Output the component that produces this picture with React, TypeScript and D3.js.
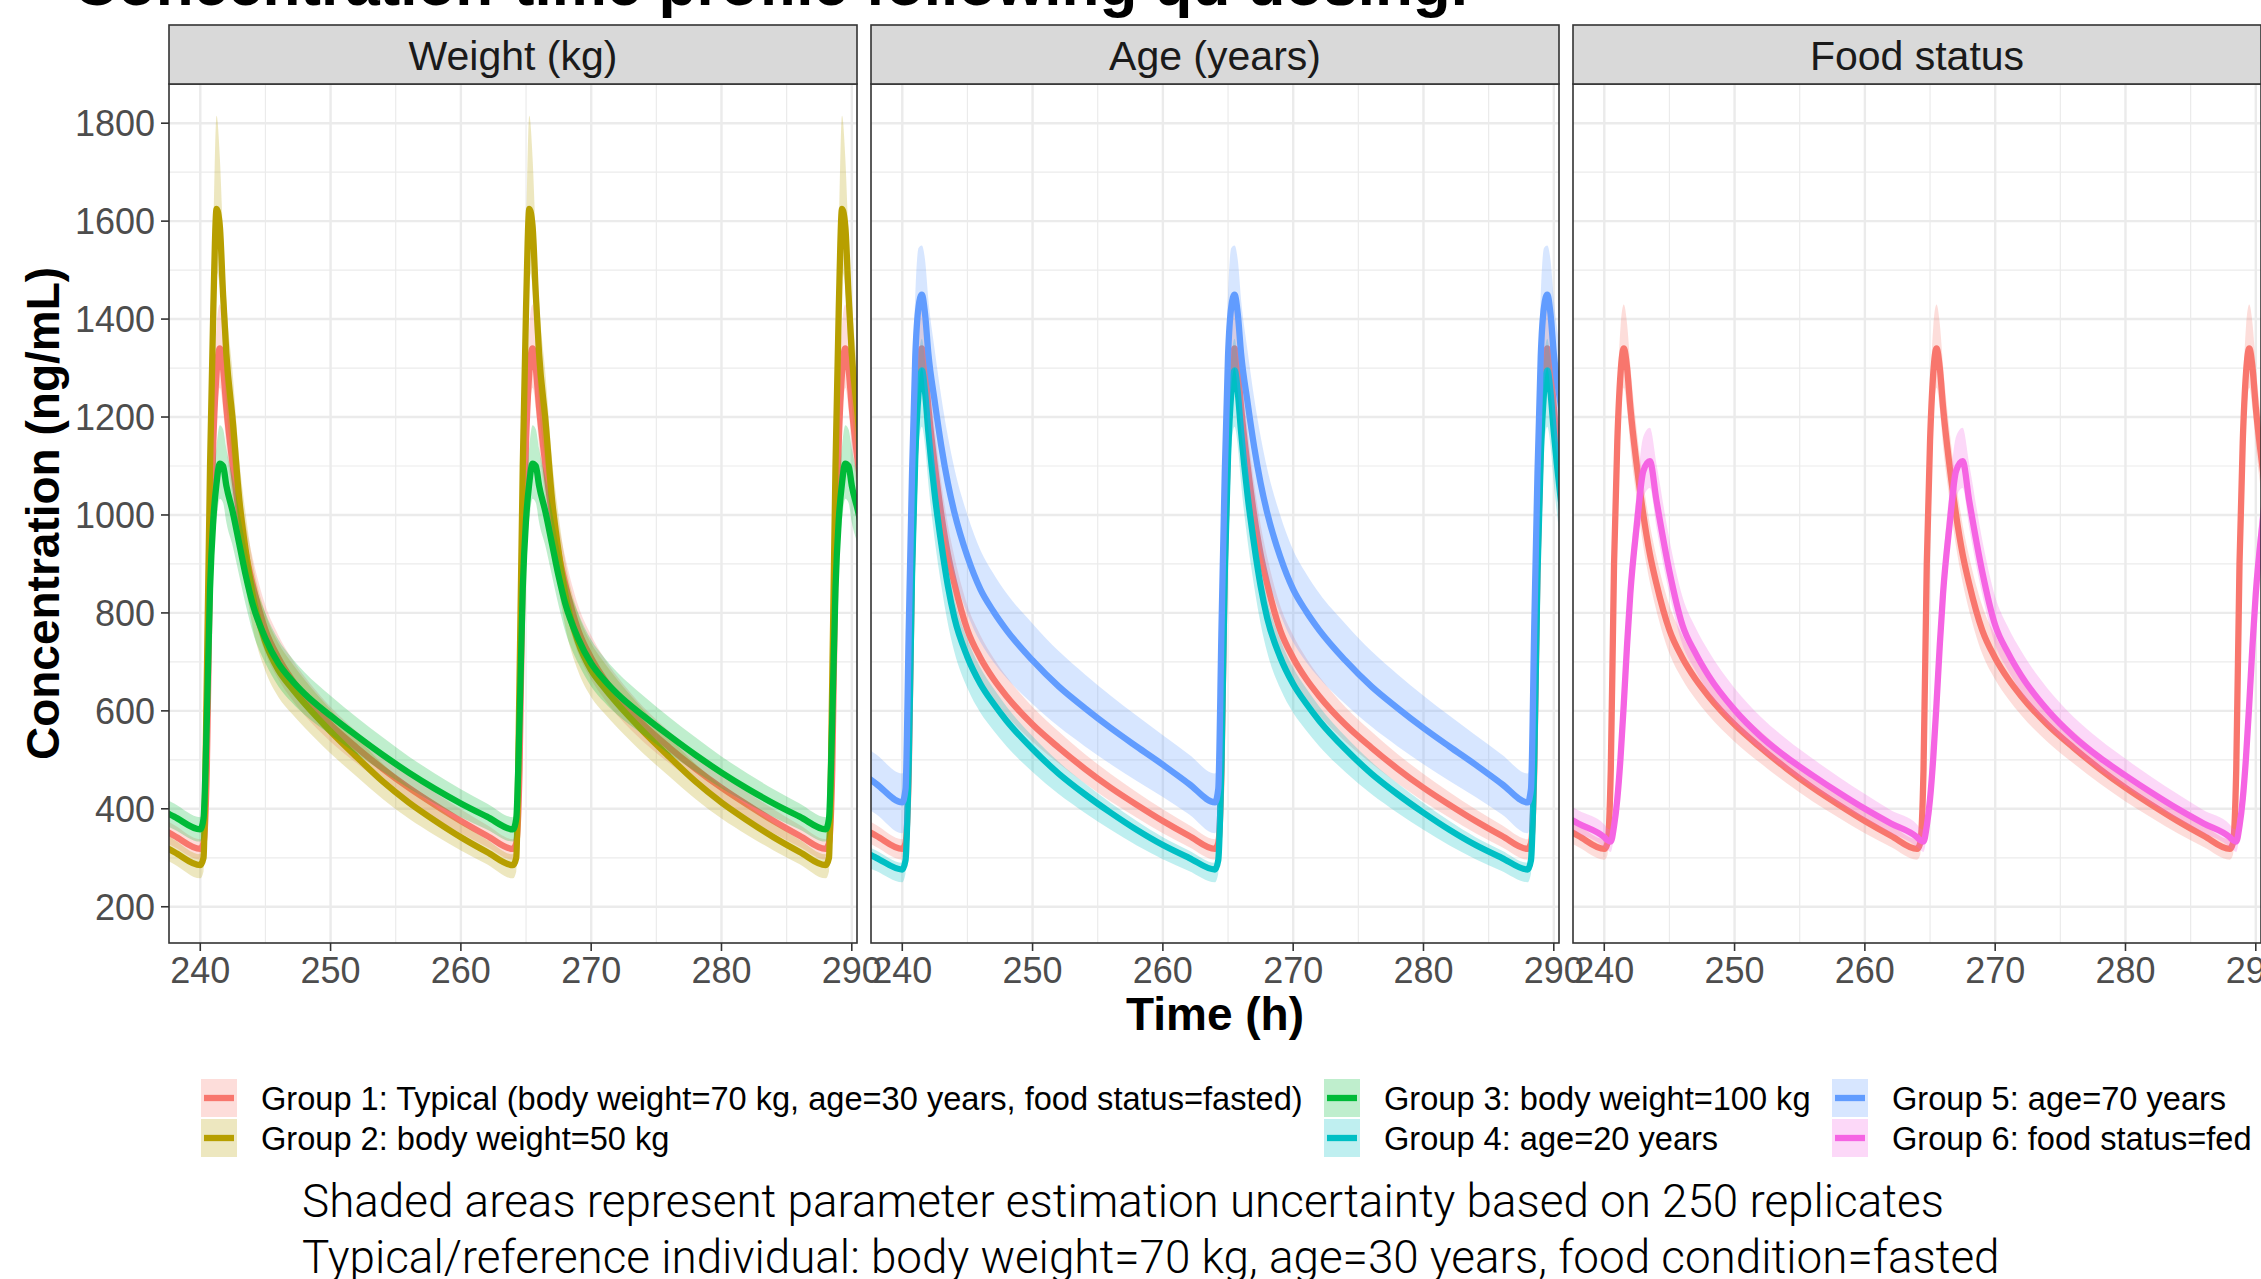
import React from 'react';
import * as d3 from 'd3';

// ---------- data ----------
const DOSE_TIMES = [216, 240, 264, 288];
const OFFSETS = [0, 0.25, 0.5, 0.75, 1, 1.25, 1.5, 1.75, 2, 2.5, 3, 3.5, 4, 5, 6, 7, 8, 10, 12, 14, 16, 18, 20, 22];

const G1_MEAN = [318, 330, 480, 900, 1150, 1290, 1340, 1300, 1220, 1100, 1000, 920, 860, 765, 708, 665, 630, 572, 525, 482, 443, 408, 375, 345];
const G1_LO = [296, 306, 445, 835, 1070, 1200, 1260, 1215, 1140, 1030, 935, 862, 805, 717, 664, 624, 591, 537, 493, 452, 415, 382, 350, 322];
const G1_HI = [338, 352, 515, 965, 1235, 1385, 1430, 1390, 1305, 1172, 1066, 980, 915, 815, 754, 708, 670, 608, 558, 512, 471, 434, 399, 367];

const G2_MEAN = [285, 300, 660, 1100, 1420, 1625, 1590, 1450, 1330, 1190, 1030, 925, 840, 740, 683, 647, 615, 558, 506, 456, 413, 376, 342, 312];
const G2_LO = [258, 272, 605, 1010, 1305, 1495, 1465, 1335, 1225, 1095, 948, 851, 773, 681, 628, 595, 566, 513, 466, 420, 380, 346, 315, 287];
const G2_HI = [307, 323, 715, 1190, 1560, 1815, 1730, 1565, 1435, 1285, 1112, 999, 907, 799, 738, 699, 664, 603, 546, 492, 446, 406, 370, 337];

const G3_MEAN = [358, 380, 580, 850, 990, 1065, 1105, 1100, 1060, 1005, 940, 875, 820, 748, 697, 663, 635, 590, 549, 510, 474, 441, 411, 384];
const G3_LO = [333, 353, 540, 790, 920, 990, 1033, 1025, 985, 935, 875, 815, 763, 697, 650, 618, 592, 551, 512, 476, 442, 411, 383, 358];
const G3_HI = [383, 407, 620, 910, 1060, 1140, 1183, 1175, 1135, 1075, 1006, 936, 877, 800, 745, 709, 679, 631, 587, 546, 507, 472, 440, 411];

const G4_MEAN = [276, 295, 500, 880, 1120, 1250, 1295, 1250, 1170, 1040, 940, 855, 790, 710, 655, 615, 580, 522, 472, 430, 392, 357, 326, 300];
const G4_LO = [250, 268, 455, 800, 1020, 1140, 1180, 1140, 1065, 947, 855, 778, 720, 646, 596, 560, 528, 475, 430, 392, 357, 325, 297, 273];
const G4_HI = [290, 310, 525, 925, 1176, 1312, 1360, 1312, 1228, 1092, 987, 898, 830, 746, 688, 646, 609, 548, 496, 452, 412, 375, 342, 315];

const G5_MEAN = [413, 440, 770, 1085, 1325, 1425, 1450, 1410, 1330, 1230, 1140, 1065, 1005, 915, 848, 803, 765, 703, 650, 606, 565, 527, 490, 451];
const G5_LO = [350, 375, 670, 945, 1160, 1260, 1300, 1250, 1175, 1080, 995, 928, 877, 798, 740, 700, 667, 614, 568, 528, 491, 457, 424, 389];
const G5_HI = [472, 500, 850, 1195, 1450, 1545, 1550, 1520, 1440, 1335, 1240, 1160, 1095, 1000, 928, 880, 840, 778, 722, 675, 631, 590, 550, 511];

const G6_MEAN = [342, 336, 333, 365, 420, 505, 615, 735, 840, 980, 1090, 1110, 1030, 885, 775, 718, 672, 602, 548, 505, 468, 433, 400, 370];
const G6_LO = [322, 316, 312, 345, 398, 478, 582, 695, 795, 930, 1035, 1055, 975, 838, 735, 682, 638, 572, 521, 480, 445, 411, 380, 351];
const G6_HI = [368, 360, 358, 392, 452, 543, 660, 790, 900, 1050, 1160, 1178, 1105, 950, 833, 770, 722, 646, 588, 542, 502, 465, 430, 397];

const GROUP_NAMES = [
  'Group 1: Typical (body weight=70 kg, age=30 years, food status=fasted)',
  'Group 2: body weight=50 kg',
  'Group 3: body weight=100 kg',
  'Group 4: age=20 years',
  'Group 5: age=70 years',
  'Group 6: food status=fed',
];
const GROUP_COLORS = ['#F8766D', '#B79F00', '#00BA38', '#00BFC4', '#619CFF', '#F564E3'];
const GROUP_DATA = [
  [G1_MEAN, G1_LO, G1_HI],
  [G2_MEAN, G2_LO, G2_HI],
  [G3_MEAN, G3_LO, G3_HI],
  [G4_MEAN, G4_LO, G4_HI],
  [G5_MEAN, G5_LO, G5_HI],
  [G6_MEAN, G6_LO, G6_HI],
];

const PANEL_TITLES = ['Weight (kg)', 'Age (years)', 'Food status'];
const PANEL_GROUPS = [[0, 1, 2], [0, 3, 4], [0, 5]];

const X_TICKS = [240, 250, 260, 270, 280, 290];
const X_MINOR = [245, 255, 265, 275, 285];
const Y_TICKS = [200, 400, 600, 800, 1000, 1200, 1400, 1600, 1800];
const Y_MINOR = [300, 500, 700, 900, 1100, 1300, 1500, 1700];

const TITLE = 'Concentration-time profile following qd dosing.';
const X_TITLE = 'Time (h)';
const Y_TITLE = 'Concentration (ng/mL)';
const CAPTION = [
  'Shaded areas represent parameter estimation uncertainty based on 250 replicates',
  'Typical/reference individual: body weight=70 kg, age=30 years, food condition=fasted',
];

// ---------- layout ----------
const W = 2261;
const H = 1279;
const PANEL_X = [169, 871, 1573];
const PANEL_W = 688;
const PANEL_TOP = 84;
const PANEL_BOTTOM = 943;
const STRIP_TOP = 25;
const FONT = '"Liberation Sans", Arial, Helvetica, sans-serif';
const LINE_W = 6.3;

type Pt = { t: number; m: number; lo: number; hi: number };

function buildSeries(g: number): Pt[] {
  const [mean, lo, hi] = GROUP_DATA[g];
  const pts: Pt[] = [];
  DOSE_TIMES.forEach((d) => {
    OFFSETS.forEach((o, i) => {
      pts.push({ t: d + o, m: mean[i], lo: lo[i], hi: hi[i] });
    });
  });
  return pts;
}

export default function App() {
  const y = d3.scaleLinear().domain([126, 1880]).range([PANEL_BOTTOM, PANEL_TOP]);
  const series = GROUP_DATA.map((_, g) => buildSeries(g));

  const panels = PANEL_TITLES.map((title, p) => {
    const x0 = PANEL_X[p];
    const x = d3.scaleLinear().domain([237.6, 290.4]).range([x0, x0 + PANEL_W]);
    const line = d3
      .line<Pt>()
      .x((d) => x(d.t))
      .y((d) => y(d.m))
      .curve(d3.curveMonotoneX);
    const area = d3
      .area<Pt>()
      .x((d) => x(d.t))
      .y0((d) => y(d.lo))
      .y1((d) => y(d.hi))
      .curve(d3.curveMonotoneX);
    const clipId = `clip-${p}`;
    return (
      <g key={p}>
        <defs>
          <clipPath id={clipId}>
            <rect x={x0} y={PANEL_TOP} width={PANEL_W} height={PANEL_BOTTOM - PANEL_TOP} />
          </clipPath>
        </defs>
        <rect x={x0} y={PANEL_TOP} width={PANEL_W} height={PANEL_BOTTOM - PANEL_TOP} fill="#FFFFFF" />
        {Y_MINOR.map((v) => (
          <line key={`ym${v}`} x1={x0} x2={x0 + PANEL_W} y1={y(v)} y2={y(v)} stroke="#EBEBEB" strokeWidth={1.2} />
        ))}
        {X_MINOR.map((v) => (
          <line key={`xm${v}`} x1={x(v)} x2={x(v)} y1={PANEL_TOP} y2={PANEL_BOTTOM} stroke="#EBEBEB" strokeWidth={1.2} />
        ))}
        {Y_TICKS.map((v) => (
          <line key={`yM${v}`} x1={x0} x2={x0 + PANEL_W} y1={y(v)} y2={y(v)} stroke="#EBEBEB" strokeWidth={2.4} />
        ))}
        {X_TICKS.map((v) => (
          <line key={`xM${v}`} x1={x(v)} x2={x(v)} y1={PANEL_TOP} y2={PANEL_BOTTOM} stroke="#EBEBEB" strokeWidth={2.4} />
        ))}
        <g clipPath={`url(#${clipId})`}>
          {PANEL_GROUPS[p].map((g) => (
            <g key={g}>
              <path d={area(series[g]) || ''} fill={GROUP_COLORS[g]} fillOpacity={0.25} stroke="none" />
              <path
                d={line(series[g]) || ''}
                fill="none"
                stroke={GROUP_COLORS[g]}
                strokeWidth={LINE_W}
                strokeLinejoin="round"
              />
            </g>
          ))}
        </g>
        <rect
          x={x0}
          y={PANEL_TOP}
          width={PANEL_W}
          height={PANEL_BOTTOM - PANEL_TOP}
          fill="none"
          stroke="#333333"
          strokeWidth={1.6}
        />
        <rect
          x={x0}
          y={STRIP_TOP}
          width={PANEL_W}
          height={PANEL_TOP - STRIP_TOP}
          fill="#D9D9D9"
          stroke="#333333"
          strokeWidth={1.6}
        />
        <text
          x={x0 + PANEL_W / 2}
          y={70}
          textAnchor="middle"
          fontFamily={FONT}
          fontSize={41}
          fill="#1A1A1A"
        >
          {title}
        </text>
        {X_TICKS.map((v) => (
          <g key={`xt${v}`}>
            <line x1={x(v)} x2={x(v)} y1={PANEL_BOTTOM} y2={PANEL_BOTTOM + 8} stroke="#333333" strokeWidth={1.6} />
            <text x={x(v)} y={983} textAnchor="middle" fontFamily={FONT} fontSize={36} fill="#4D4D4D">
              {v}
            </text>
          </g>
        ))}
      </g>
    );
  });

  const legendCols = [201, 1324, 1832];
  const legendRows = [1079, 1119];
  const keyW = 36;
  const keyH = 38;

  return (
    <div style={{ position: 'absolute', left: 0, top: 0, width: W, height: H, background: '#FFFFFF' }}>
      <style>{'body{margin:0;}'}</style>
      <svg width={W} height={H} viewBox={`0 0 ${W} ${H}`} style={{ display: 'block' }}>
        <rect x={0} y={0} width={W} height={H} fill="#FFFFFF" />
        <text x={73} y={5} fontFamily={FONT} fontWeight="bold" fontSize={62} fill="#000000">
          {TITLE}
        </text>
        {panels}
        {Y_TICKS.map((v) => (
          <g key={`yt${v}`}>
            <line x1={PANEL_X[0] - 8} x2={PANEL_X[0]} y1={y(v)} y2={y(v)} stroke="#333333" strokeWidth={1.6} />
            <text
              x={155}
              y={y(v)}
              dy="0.36em"
              textAnchor="end"
              fontFamily={FONT}
              fontSize={36}
              fill="#4D4D4D"
            >
              {v}
            </text>
          </g>
        ))}
        <text
          transform={`translate(59, ${(PANEL_TOP + PANEL_BOTTOM) / 2}) rotate(-90)`}
          textAnchor="middle"
          fontFamily={FONT}
          fontWeight="bold"
          fontSize={46}
          fill="#000000"
        >
          {Y_TITLE}
        </text>
        <text
          x={(PANEL_X[0] + PANEL_X[2] + PANEL_W) / 2}
          y={1030}
          textAnchor="middle"
          fontFamily={FONT}
          fontWeight="bold"
          fontSize={46}
          fill="#000000"
        >
          {X_TITLE}
        </text>
        {GROUP_NAMES.map((name, g) => {
          const col = Math.floor(g / 2);
          const row = g % 2;
          const kx = legendCols[col];
          const ky = legendRows[row];
          return (
            <g key={`lg${g}`}>
              <rect x={kx} y={ky} width={keyW} height={keyH} fill={GROUP_COLORS[g]} fillOpacity={0.25} />
              <line
                x1={kx + 3}
                x2={kx + keyW - 3}
                y1={ky + keyH / 2}
                y2={ky + keyH / 2}
                stroke={GROUP_COLORS[g]}
                strokeWidth={LINE_W}
              />
              <text
                x={kx + 60}
                y={ky + keyH / 2}
                dy="0.36em"
                fontFamily={FONT}
                fontSize={32.6}
                fill="#000000"
              >
                {name}
              </text>
            </g>
          );
        })}
        {CAPTION.map((c, i) => (
          <text
            key={`cap${i}`}
            x={302}
            y={1217 + i * 56}
            fontFamily='Roboto, "Liberation Sans", sans-serif'
            fontWeight={300}
            fontSize={45.8}
            fill="#000000"
          >
            {c}
          </text>
        ))}
      </svg>
    </div>
  );
}
